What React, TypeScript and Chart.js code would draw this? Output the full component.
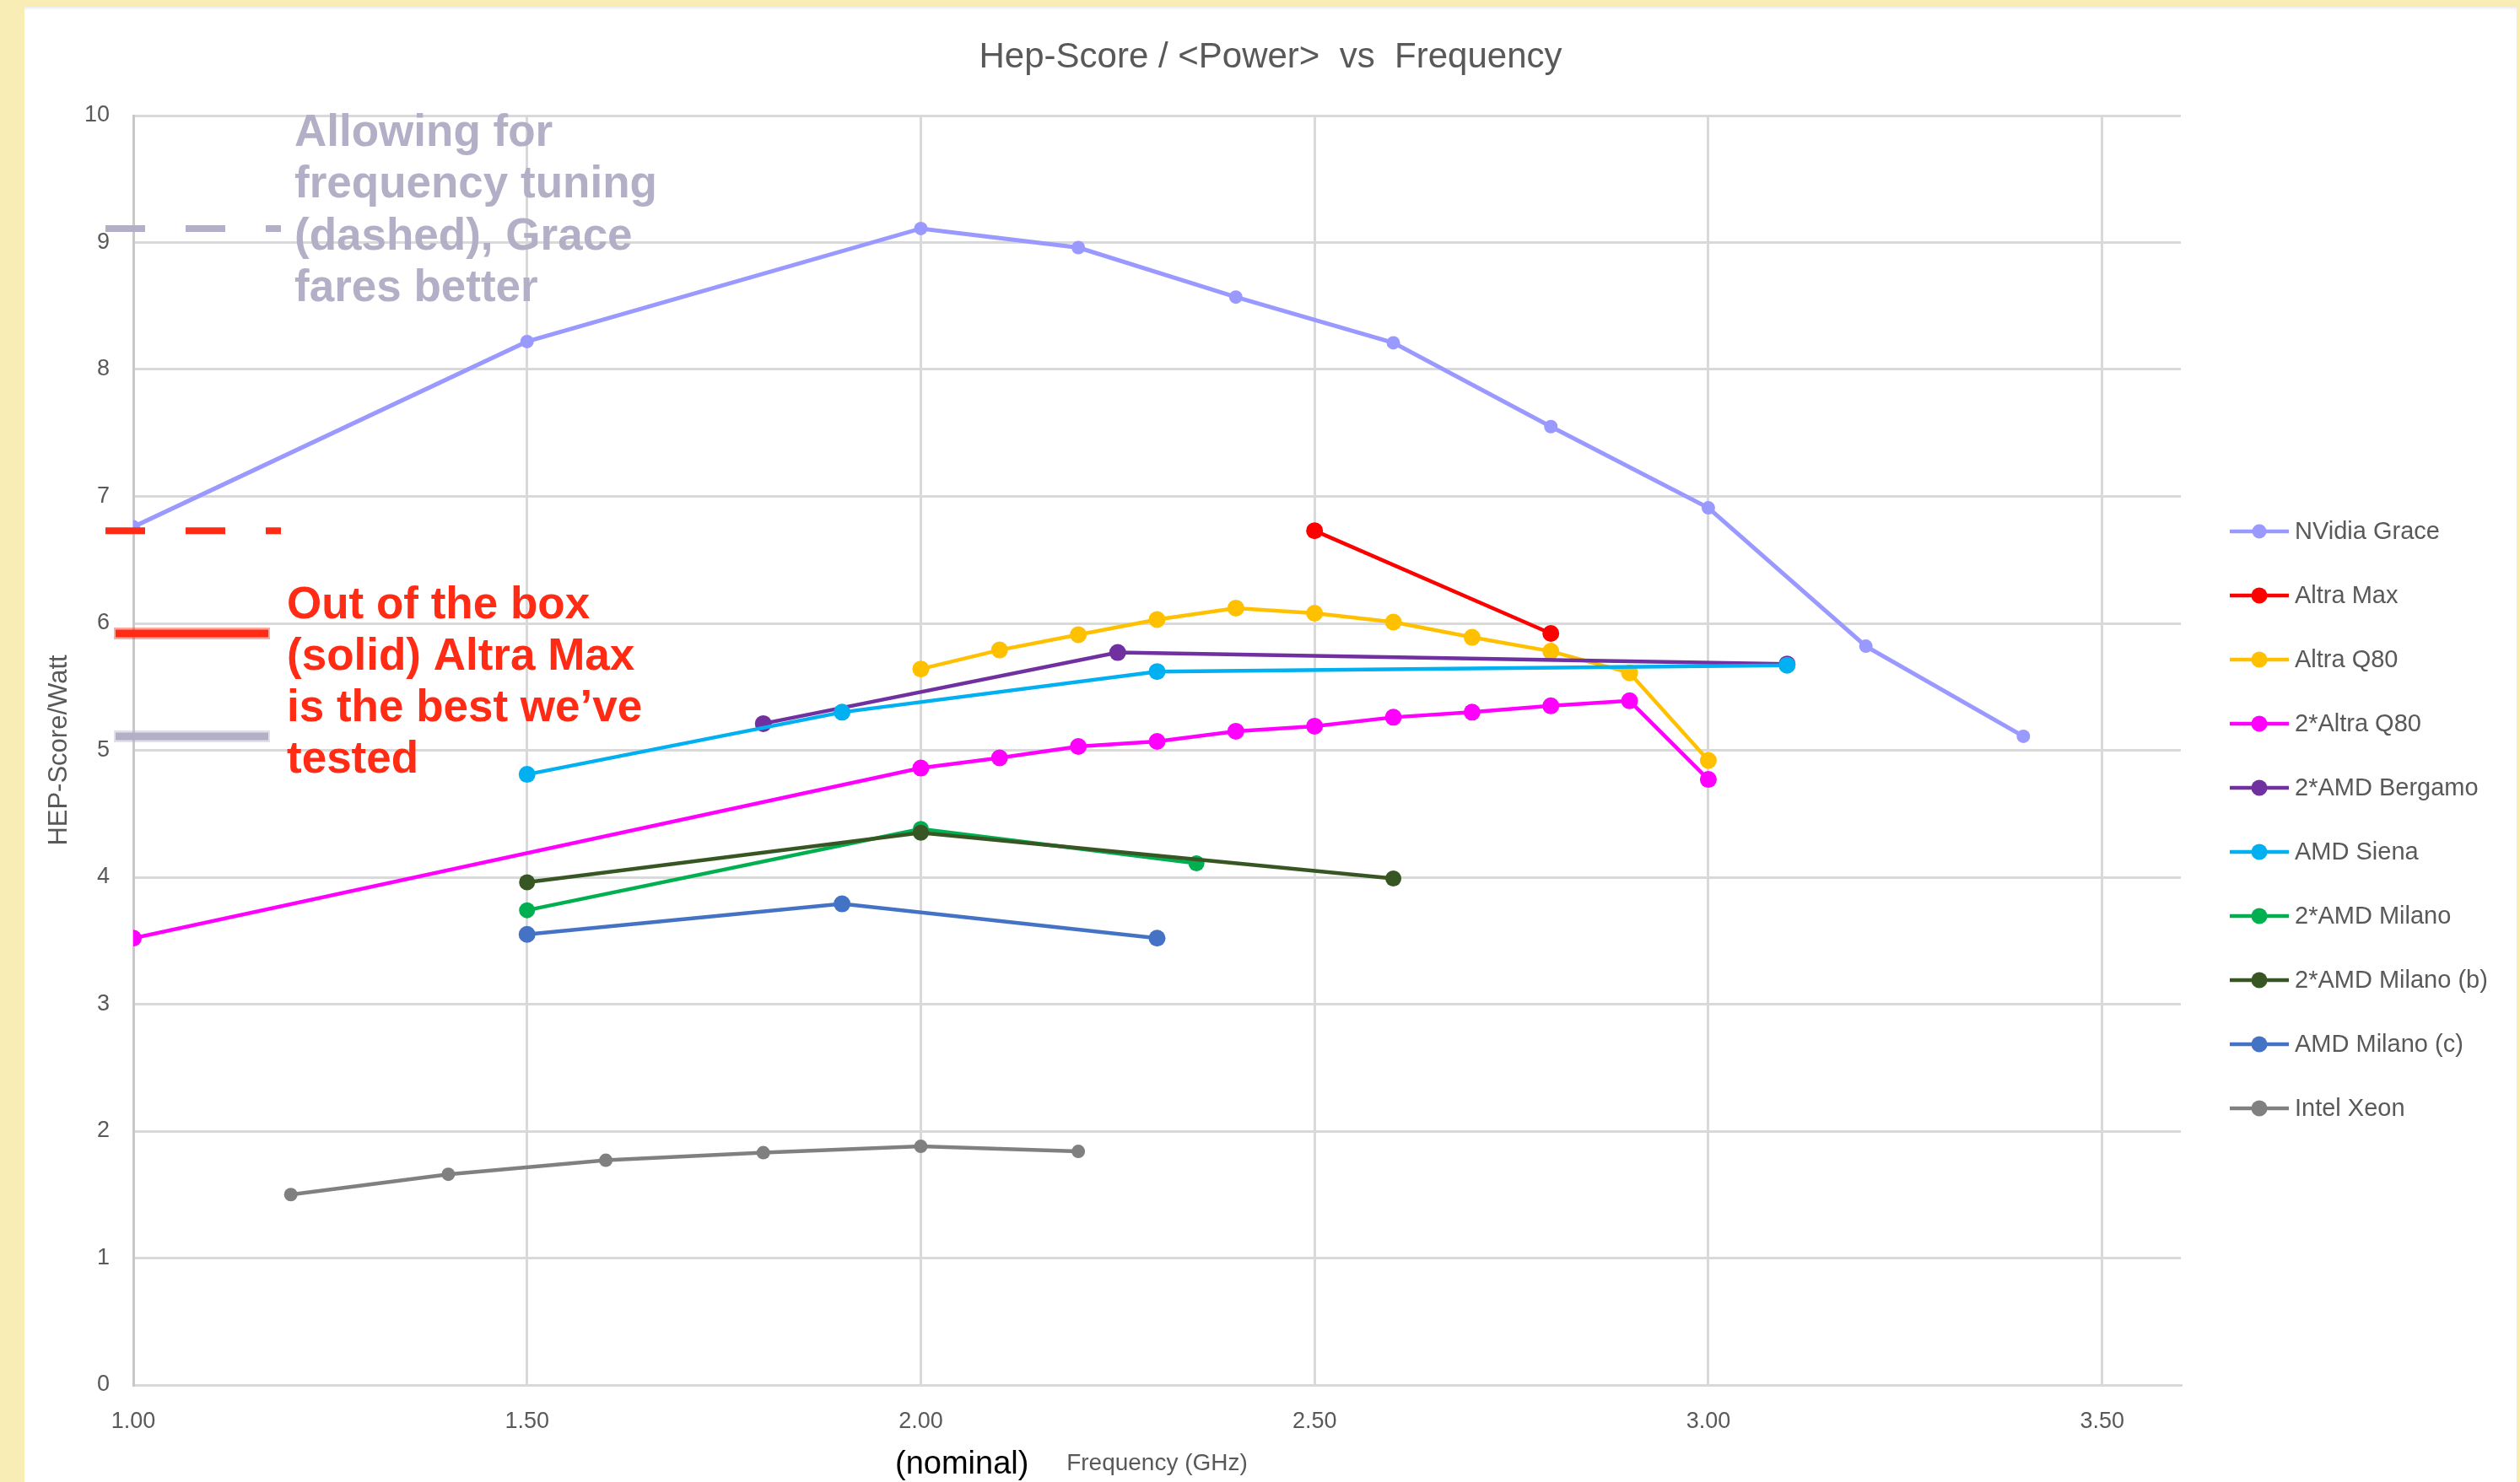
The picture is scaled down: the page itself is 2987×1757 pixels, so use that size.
import React, { useEffect, useRef } from "react";
import { Chart, registerables } from "chart.js";

Chart.register(...registerables);

// Frequency (GHz) and Hep-Score per Watt for each system
const freqGrace = [1.0, 1.5, 2.0, 2.2, 2.4, 2.6, 2.8, 3.0, 3.2, 3.4];
const hepGrace = [6.76, 8.22, 9.11, 8.96, 8.57, 8.21, 7.55, 6.91, 5.82, 5.11];

const freqAltraMax = [2.5, 2.8];
const hepAltraMax = [6.73, 5.92];

const freqAltraQ80 = [2.0, 2.1, 2.2, 2.3, 2.4, 2.5, 2.6, 2.7, 2.8, 2.9, 3.0];
const hepAltraQ80 = [5.64, 5.79, 5.91, 6.03, 6.12, 6.08, 6.01, 5.89, 5.78, 5.61, 4.92];

const freqDualAltraQ80 = [1.0, 2.0, 2.1, 2.2, 2.3, 2.4, 2.5, 2.6, 2.7, 2.8, 2.9, 3.0];
const hepDualAltraQ80 = [3.52, 4.86, 4.94, 5.03, 5.07, 5.15, 5.19, 5.26, 5.3, 5.35, 5.39, 4.77];

const freqBergamo = [1.8, 2.25, 3.1];
const hepBergamo = [5.21, 5.77, 5.68];

const freqSiena = [1.5, 1.9, 2.3, 3.1];
const hepSiena = [4.81, 5.3, 5.62, 5.67];

const freqMilano = [1.5, 2.0, 2.35];
const hepMilano = [3.74, 4.38, 4.11];

const freqMilanoB = [1.5, 2.0, 2.6];
const hepMilanoB = [3.96, 4.35, 3.99];

const freqMilanoC = [1.5, 1.9, 2.3];
const hepMilanoC = [3.55, 3.79, 3.52];

const freqXeon = [1.2, 1.4, 1.6, 1.8, 2.0, 2.2];
const hepXeon = [1.5, 1.66, 1.77, 1.83, 1.88, 1.84];

const seriesNames = [
  "NVidia Grace",
  "Altra Max",
  "Altra Q80",
  "2*Altra Q80",
  "2*AMD Bergamo",
  "AMD Siena",
  "2*AMD Milano",
  "2*AMD Milano (b)",
  "AMD Milano (c)",
  "Intel Xeon",
];
const seriesColors = [
  "#9999FF",
  "#FF0000",
  "#FFC000",
  "#FF00FF",
  "#7030A0",
  "#00B0F0",
  "#00B050",
  "#375623",
  "#4472C4",
  "#808080",
];
const seriesFreqs = [
  freqGrace, freqAltraMax, freqAltraQ80, freqDualAltraQ80, freqBergamo,
  freqSiena, freqMilano, freqMilanoB, freqMilanoC, freqXeon,
];
const seriesHeps = [
  hepGrace, hepAltraMax, hepAltraQ80, hepDualAltraQ80, hepBergamo,
  hepSiena, hepMilano, hepMilanoB, hepMilanoC, hepXeon,
];
const pointRadii = [8, 10, 10, 10, 10, 10, 9.5, 9.5, 10, 8];

const yTickValues = [0, 1, 2, 3, 4, 5, 6, 7, 8, 9, 10];
const xTickValues = [1.0, 1.5, 2.0, 2.5, 3.0, 3.5];

const chartTitle = "Hep-Score / <Power>  vs  Frequency";
const xTitle = "Frequency (GHz)";
const yTitle = "HEP-Score/Watt";
const nominalNote = "(nominal)";
const tuningNote = ["Allowing for", "frequency tuning", "(dashed), Grace", "fares better"];
const boxNote = ["Out of the box", "(solid) Altra Max", "is the best we\u2019ve", "tested"];

const W = 2987;
const H = 1757;
const GRID = "#D9D9D9";
const TEXT = "#595959";
const NOTE_GRAY = "#B3AFC7";
const NOTE_RED = "#FF2B14";
const SANS = '"Liberation Sans", Arial, sans-serif';

const overlayPlugin = {
  id: "slideOverlay",
  afterDraw(chart: any) {
    const ctx = chart.ctx;
    const area = chart.chartArea;
    const ys = chart.scales.y;
    ctx.save();

    // chart title
    ctx.fillStyle = TEXT;
    ctx.font = `42px ${SANS}`;
    ctx.textAlign = "center";
    ctx.textBaseline = "alphabetic";
    ctx.fillText(chartTitle, 1506, 80);

    // "(nominal)" next to the axis title
    ctx.fillStyle = "#000000";
    ctx.font = `38px ${SANS}`;
    ctx.textAlign = "left";
    ctx.fillText(nominalNote, 1061, 1747);

    // reference marks for tuned (dashed) and nominal (solid) best values
    const graceBest = Math.max(...hepGrace);
    const graceNominal = hepGrace[hepGrace.length - 1];
    const maxBest = Math.max(...hepAltraMax);
    const maxNominal = hepAltraMax[hepAltraMax.length - 1];

    const dashL = area.left - 33;
    const dashR = area.left + 175;
    ctx.lineWidth = 8;
    ctx.lineCap = "butt";
    ctx.setLineDash([47, 48]);
    ctx.strokeStyle = NOTE_GRAY;
    let y = ys.getPixelForValue(graceBest);
    ctx.beginPath();
    ctx.moveTo(dashL, y);
    ctx.lineTo(dashR, y);
    ctx.stroke();
    ctx.strokeStyle = NOTE_RED;
    y = ys.getPixelForValue(maxBest);
    ctx.beginPath();
    ctx.moveTo(dashL, y);
    ctx.lineTo(dashR, y);
    ctx.stroke();
    ctx.setLineDash([]);

    const solidL = area.left - 23;
    const solidR = area.left + 162;
    const solidMark = (value: number, color: string) => {
      const yy = ys.getPixelForValue(value);
      ctx.strokeStyle = color;
      ctx.globalAlpha = 0.4;
      ctx.lineWidth = 14;
      ctx.beginPath();
      ctx.moveTo(solidL, yy);
      ctx.lineTo(solidR, yy);
      ctx.stroke();
      ctx.globalAlpha = 1;
      ctx.lineWidth = 9;
      ctx.beginPath();
      ctx.moveTo(solidL + 2, yy);
      ctx.lineTo(solidR - 2, yy);
      ctx.stroke();
    };
    solidMark(maxNominal, NOTE_RED);
    solidMark(graceNominal, NOTE_GRAY);

    // annotation texts
    ctx.font = `bold 53px ${SANS}`;
    ctx.textAlign = "left";
    ctx.fillStyle = NOTE_GRAY;
    tuningNote.forEach((line, i) => ctx.fillText(line, 349, 173 + i * 61.3));
    ctx.fillStyle = NOTE_RED;
    boxNote.forEach((line, i) => ctx.fillText(line, 340, 733 + i * 61));

    // legend: line with marker and series name
    ctx.font = `29px ${SANS}`;
    ctx.textBaseline = "middle";
    chart.data.datasets.forEach((ds: any, i: number) => {
      const ly = 630 + i * 76;
      ctx.strokeStyle = ds.borderColor;
      ctx.lineWidth = 4.5;
      ctx.beginPath();
      ctx.moveTo(2643, ly);
      ctx.lineTo(2713, ly);
      ctx.stroke();
      ctx.fillStyle = ds.backgroundColor;
      ctx.beginPath();
      ctx.arc(2678, ly, i === 0 ? 8.5 : 9.5, 0, Math.PI * 2);
      ctx.fill();
      ctx.fillStyle = TEXT;
      ctx.fillText(ds.label, 2720, ly + 1);
    });

    ctx.restore();
  },
};

export default function App() {
  const canvasRef = useRef<HTMLCanvasElement | null>(null);

  useEffect(() => {
    const canvas = canvasRef.current;
    if (!canvas) return;
    const n = seriesNames.length;
    const datasets = seriesNames.map((name, i) => ({
      label: name,
      data: seriesFreqs[i].map((f, j) => ({ x: f, y: seriesHeps[i][j] })),
      borderColor: seriesColors[i],
      backgroundColor: seriesColors[i],
      pointBackgroundColor: seriesColors[i],
      pointBorderColor: seriesColors[i],
      pointBorderWidth: 0,
      pointRadius: pointRadii[i],
      borderWidth: i === 0 ? 5 : 4.5,
      tension: 0,
      showLine: true,
      fill: false,
      order: n - i,
    }));

    const chart = new Chart(canvas, {
      type: "scatter",
      data: { datasets },
      options: {
        responsive: false,
        animation: false,
        devicePixelRatio: 1,
        layout: { padding: { left: 0, top: 137, right: W - 2585, bottom: 0 } },
        plugins: {
          legend: { display: false },
          tooltip: { enabled: false },
          title: { display: false },
        },
        scales: {
          x: {
            type: "linear",
            min: 1.0,
            max: 3.6,
            afterBuildTicks: (scale: any) => {
              scale.ticks = xTickValues.map((v) => ({ value: v }));
            },
            afterFit: (scale: any) => {
              scale.height = H - 1642;
            },
            ticks: {
              color: TEXT,
              font: { family: SANS, size: 27 },
              padding: 27,
              maxRotation: 0,
              callback: (v: any) => Number(v).toFixed(2),
            },
            grid: { color: GRID, lineWidth: 3, drawTicks: false },
            border: { display: true, color: GRID, width: 3 },
            title: {
              display: true,
              text: xTitle,
              color: TEXT,
              font: { family: SANS, size: 28 },
              padding: { top: 0, bottom: 5 },
            },
          },
          y: {
            type: "linear",
            min: 0,
            max: 10,
            afterBuildTicks: (scale: any) => {
              scale.ticks = yTickValues.map((v) => ({ value: v }));
            },
            afterFit: (scale: any) => {
              scale.width = 158;
            },
            ticks: {
              color: TEXT,
              font: { family: SANS, size: 27 },
              padding: 28,
              callback: (v: any) => String(v),
            },
            grid: { color: GRID, lineWidth: 3, drawTicks: false },
            border: { display: true, color: "#C8C8C8", width: 3 },
            title: {
              display: true,
              text: yTitle,
              color: TEXT,
              font: { family: SANS, size: 31 },
              padding: { top: 52, bottom: 0 },
            },
          },
        },
      },
      plugins: [overlayPlugin],
    });

    return () => chart.destroy();
  }, []);

  return (
    <div
      style={{
        position: "fixed",
        left: 0,
        top: 0,
        width: W,
        height: H,
        background: "#F8EDB5",
        overflow: "hidden",
      }}
    >
      <div
        style={{
          position: "absolute",
          left: 29,
          top: 7,
          right: 4,
          bottom: 0,
          background: "#FFFFFF",
          boxShadow: "inset 0 4px 4px -2px rgba(0,0,0,0.12)",
        }}
      />
      <canvas
        ref={canvasRef}
        width={W}
        height={H}
        style={{ position: "absolute", left: 0, top: 0, width: W, height: H }}
      />
    </div>
  );
}
